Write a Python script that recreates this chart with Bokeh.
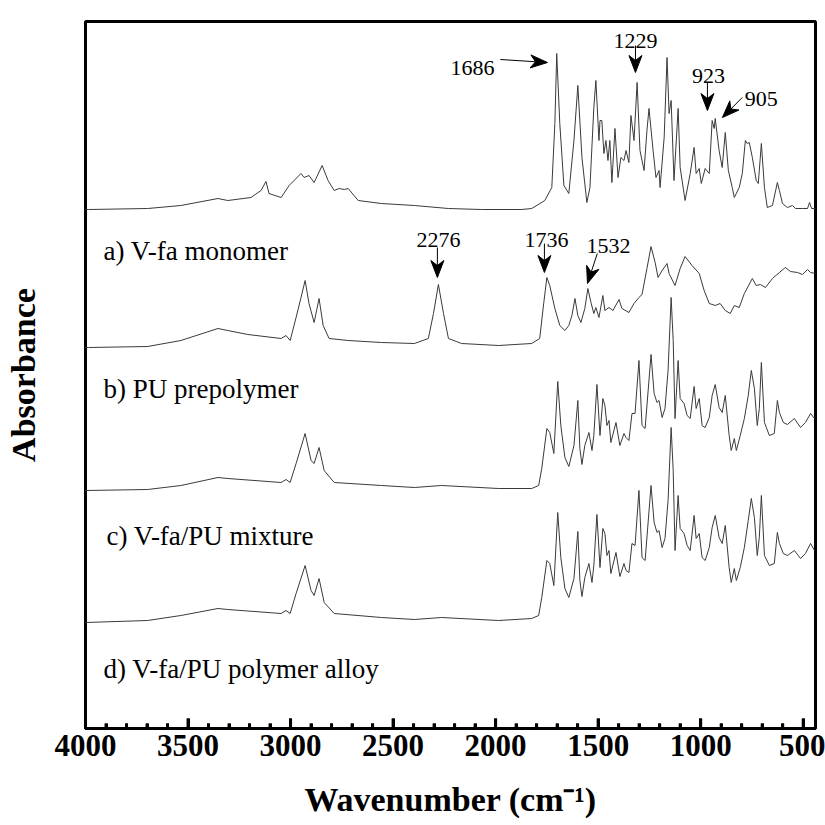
import math
from bokeh.plotting import figure
from bokeh.models import Range1d, FixedTicker, Label
from bokeh.embed import file_html
from bokeh.resources import INLINE

# ---------------- data ----------------
# wavenumbers (cm-1) and relative absorbance (a.u.) for each spectrum
wn_a = [4000, 3985, 3697, 3535, 3354, 3306, 3193, 3144, 3120, 3105, 3046, 3007, 2949, 2934, 2910, 2885,
        2846, 2817, 2787, 2763, 2738, 2719, 2670, 2557, 2396, 2230, 2068, 1873, 1824, 1760, 1726, 1711,
        1702, 1687, 1667, 1643, 1618, 1599, 1579, 1555, 1540, 1521, 1511, 1496, 1491, 1482, 1472, 1462,
        1452, 1443, 1433, 1418, 1403, 1389, 1374, 1364, 1350, 1340, 1325, 1310, 1296, 1276, 1262, 1252,
        1232, 1218, 1203, 1198, 1178, 1164, 1154, 1144, 1130, 1110, 1100, 1076, 1051, 1032, 1022, 1007,
        997, 978, 958, 944, 934, 929, 910, 895, 880, 865, 846, 836, 812, 797, 782, 773, 763, 748, 729,
        719, 704, 689, 675, 650, 626, 616, 601, 577, 552, 538, 503, 479, 469, 459, 440]
abs_a = [0.00, 0.00, 0.01, 0.04, 0.11, 0.09, 0.12, 0.19, 0.28, 0.16, 0.12, 0.24, 0.36, 0.32, 0.34, 0.27,
         0.44, 0.29, 0.19, 0.21, 0.20, 0.21, 0.09, 0.06, 0.04, 0.01, 0.00, 0.00, 0.01, 0.09, 0.22, 0.86,
         1.56, 0.86, 0.24, 0.16, 0.69, 1.24, 0.52, 0.07, 0.22, 1.02, 1.29, 0.69, 0.89, 0.89, 0.56, 0.69,
         0.49, 0.69, 0.27, 0.81, 0.32, 0.52, 0.49, 0.59, 0.47, 0.94, 0.69, 1.27, 0.59, 0.39, 0.79, 1.01,
         0.59, 0.32, 0.39, 0.22, 0.72, 1.52, 0.96, 1.09, 0.29, 1.01, 0.42, 0.09, 0.36, 0.62, 0.36, 0.41,
         0.26, 0.41, 0.36, 0.89, 0.81, 0.91, 0.59, 0.42, 0.77, 0.39, 0.22, 0.12, 0.22, 0.36, 0.69, 0.66,
         0.67, 0.52, 0.29, 0.26, 0.66, 0.22, 0.02, 0.04, 0.27, 0.19, 0.06, 0.02, 0.04, 0.01, 0.01, 0.01,
         0.07, 0.01, 0.01]

wn_b = [4000, 3985, 3697, 3535, 3354, 3306, 3208, 3046, 3022, 3002, 2973, 2949, 2929, 2910, 2885, 2861,
        2841, 2812, 2719, 2557, 2396, 2328, 2303, 2279, 2254, 2230, 2166, 1985, 1824, 1785, 1765, 1750,
        1736, 1711, 1687, 1662, 1643, 1628, 1613, 1599, 1584, 1565, 1550, 1535, 1521, 1511, 1496, 1477,
        1467, 1447, 1428, 1398, 1384, 1350, 1325, 1301, 1286, 1262, 1242, 1222, 1208, 1188, 1164, 1154,
        1125, 1100, 1076, 1042, 1007, 983, 958, 929, 905, 880, 856, 836, 812, 787, 748, 729, 709, 684,
        650, 616, 587, 562, 528, 503, 479, 464, 440]
abs_b = [0.00, 0.00, 0.01, 0.07, 0.19, 0.17, 0.13, 0.09, 0.12, 0.07, 0.30, 0.50, 0.67, 0.44, 0.25, 0.49,
         0.22, 0.09, 0.07, 0.05, 0.04, 0.09, 0.34, 0.63, 0.34, 0.09, 0.04, 0.02, 0.04, 0.09, 0.45, 0.70,
         0.62, 0.39, 0.22, 0.17, 0.22, 0.32, 0.49, 0.32, 0.25, 0.39, 0.59, 0.45, 0.34, 0.40, 0.30, 0.52,
         0.37, 0.40, 0.37, 0.48, 0.39, 0.35, 0.44, 0.50, 0.53, 0.79, 1.01, 0.85, 0.70, 0.77, 0.84, 0.74,
         0.62, 0.79, 0.91, 0.82, 0.74, 0.57, 0.44, 0.42, 0.44, 0.37, 0.34, 0.42, 0.40, 0.54, 0.69, 0.62,
         0.63, 0.60, 0.69, 0.75, 0.80, 0.76, 0.75, 0.73, 0.78, 0.75, 0.74]

wn_c = [4000, 3697, 3535, 3354, 3306, 3046, 3022, 3002, 2973, 2929, 2900, 2885, 2861, 2836, 2787, 2557,
        2396, 2264, 1985, 1824, 1790, 1775, 1750, 1736, 1716, 1697, 1682, 1662, 1643, 1618, 1599, 1589,
        1579, 1565, 1545, 1530, 1521, 1506, 1491, 1477, 1467, 1457, 1447, 1438, 1413, 1394, 1374, 1364,
        1350, 1335, 1320, 1301, 1286, 1271, 1242, 1227, 1213, 1203, 1188, 1174, 1159, 1144, 1134, 1125,
        1110, 1100, 1081, 1066, 1051, 1032, 1022, 1007, 993, 978, 958, 944, 929, 910, 895, 880, 861, 851,
        836, 826, 807, 787, 768, 753, 738, 724, 714, 704, 689, 665, 641, 626, 616, 597, 577, 543, 513,
        489, 464, 445]
abs_c = [0.00, 0.01, 0.05, 0.13, 0.12, 0.08, 0.11, 0.08, 0.27, 0.57, 0.30, 0.27, 0.43, 0.20, 0.08, 0.05,
         0.03, 0.05, 0.02, 0.02, 0.05, 0.22, 0.62, 0.58, 0.37, 1.09, 0.65, 0.33, 0.24, 0.45, 0.90, 0.42,
         0.26, 0.45, 0.58, 0.40, 0.55, 1.06, 0.55, 0.92, 0.85, 0.65, 0.70, 0.48, 0.68, 0.45, 0.57, 0.53,
         0.50, 0.77, 0.77, 1.30, 0.65, 0.62, 1.36, 0.97, 0.88, 0.90, 0.73, 0.82, 1.20, 1.93, 1.50, 0.72,
         1.30, 0.92, 0.87, 0.75, 0.72, 1.04, 0.82, 0.92, 0.65, 0.63, 0.73, 0.95, 1.06, 0.83, 0.78, 0.95,
         0.55, 0.40, 0.52, 0.40, 0.55, 0.72, 0.95, 1.20, 1.02, 0.65, 0.82, 1.28, 0.68, 0.55, 0.57, 0.90,
         0.78, 0.68, 0.66, 0.72, 0.63, 0.68, 0.77, 0.72]

wn_d = [4000, 3697, 3535, 3354, 3306, 3046, 3022, 3002, 2973, 2929, 2900, 2885, 2861, 2836, 2787, 2557,
        2396, 2264, 1985, 1824, 1790, 1775, 1750, 1736, 1716, 1697, 1682, 1662, 1643, 1618, 1599, 1589,
        1579, 1565, 1545, 1530, 1521, 1506, 1491, 1477, 1467, 1457, 1447, 1438, 1413, 1394, 1374, 1364,
        1350, 1335, 1320, 1301, 1286, 1271, 1242, 1227, 1213, 1203, 1188, 1174, 1159, 1144, 1134, 1125,
        1110, 1100, 1081, 1066, 1051, 1032, 1022, 1007, 993, 978, 958, 944, 929, 910, 895, 880, 861, 851,
        836, 826, 807, 787, 768, 753, 738, 724, 714, 704, 689, 665, 641, 626, 616, 597, 577, 543, 513,
        489, 464, 445]
abs_d = [0.00, 0.02, 0.07, 0.14, 0.13, 0.09, 0.12, 0.09, 0.29, 0.57, 0.32, 0.27, 0.44, 0.20, 0.09, 0.05,
         0.03, 0.05, 0.02, 0.04, 0.07, 0.25, 0.62, 0.59, 0.37, 1.10, 0.65, 0.34, 0.25, 0.44, 0.91, 0.42,
         0.26, 0.45, 0.59, 0.40, 0.57, 1.08, 0.55, 0.94, 0.89, 0.67, 0.72, 0.49, 0.70, 0.46, 0.59, 0.52,
         0.50, 0.79, 0.77, 1.32, 0.65, 0.62, 1.37, 1.00, 0.90, 0.92, 0.75, 0.84, 1.22, 1.95, 1.52, 0.72,
         1.27, 0.94, 0.89, 0.77, 0.72, 1.07, 0.84, 0.89, 0.65, 0.62, 0.75, 0.95, 1.07, 0.85, 0.79, 0.97,
         0.55, 0.40, 0.54, 0.42, 0.55, 0.75, 1.02, 1.24, 1.05, 0.67, 0.85, 1.27, 0.67, 0.57, 0.59, 0.90,
         0.79, 0.69, 0.67, 0.72, 0.64, 0.69, 0.79, 0.72]

offsets = [5.19, 3.81, 2.38, 1.06]
series_labels = ["a) V-fa monomer", "b) PU prepolymer", "c) V-fa/PU mixture", "d) V-fa/PU polymer alloy"]
label_x = [3912, 3912, 3897, 3912]
label_y = [4.78, 3.40, 1.93, 0.60]

peak_labels = ["1686", "1229", "923", "905", "2276", "1736", "1532"]
peak_text_x = [2113, 1318, 962, 704, 2279, 1752, 1450]
peak_text_y = [6.61, 6.88, 6.53, 6.30, 4.89, 4.89, 4.83]
arrow_x0 = [1977, 1318, 967, 797, 2284, 1762, 1504]
arrow_y0 = [6.69, 6.83, 6.46, 6.31, 4.81, 4.85, 4.75]
arrow_x1 = [1747, 1318, 967, 894, 2284, 1762, 1552]
arrow_y1 = [6.66, 6.56, 6.18, 6.11, 4.51, 4.56, 4.45]

x_major_ticks = [500, 1000, 1500, 2000, 2500, 3000, 3500, 4000]
x_minor_ticks = [v for v in range(600, 4000, 100) if v % 500 != 0]
# ----------------------------------------------------------------

FONT = "Liberation Serif"
X_START, X_END, Y_TOP = 4000, 440, 7.07
W, H = 825, 825
B_LEFT, B_RIGHT, B_TOP, B_BOTTOM = 85, 10, 21, 97
KX = (W - B_LEFT - B_RIGHT) / (X_START - X_END)   # px per cm-1
KY = (H - B_TOP - B_BOTTOM) / Y_TOP               # px per absorbance unit

p = figure(width=W, height=H, output_backend="svg", toolbar_location=None,
           x_range=Range1d(X_START, X_END), y_range=Range1d(0, Y_TOP),
           min_border_left=B_LEFT, min_border_right=B_RIGHT, min_border_top=B_TOP,
           min_border_bottom=B_BOTTOM)
p.outline_line_color = "black"
p.outline_line_width = 3
p.xgrid.visible = False
p.ygrid.visible = False

spectra = [(wn_a, abs_a), (wn_b, abs_b), (wn_c, abs_c), (wn_d, abs_d)]
for (wn, ab), off in zip(spectra, offsets):
    p.line(wn, [v + off for v in ab], line_color="#3a3a3a", line_width=1)

# x axis with inward ticks (major 500, minor 100)
xa = p.xaxis[0]
xa.ticker = FixedTicker(ticks=x_major_ticks, minor_ticks=x_minor_ticks)
xa.axis_line_color = "black"
xa.axis_line_width = 3
xa.major_tick_in = 10
xa.major_tick_out = 0
xa.minor_tick_in = 5
xa.minor_tick_out = 0
xa.major_tick_line_color = "black"
xa.minor_tick_line_color = "black"
xa.major_tick_line_width = 3
xa.minor_tick_line_width = 3
xa.major_label_text_font = FONT
xa.major_label_text_font_style = "bold"
xa.major_label_text_font_size = "31px"
xa.major_label_text_color = "black"
xa.major_label_standoff = 6
xa.axis_label = "Wavenumber (cm\u207b\u00b9)"
xa.axis_label_text_font = FONT
xa.axis_label_text_font_style = "bold"
xa.axis_label_text_font_size = "34px"
xa.axis_label_text_color = "black"
xa.axis_label_standoff = 22

ya = p.yaxis[0]
ya.ticker = FixedTicker(ticks=[])
ya.axis_line_color = None
ya.major_tick_line_color = None
ya.minor_tick_line_color = None
ya.axis_label = "Absorbance"
ya.axis_label_text_font = FONT
ya.axis_label_text_font_style = "bold"
ya.axis_label_text_font_size = "34px"
ya.axis_label_text_color = "black"
ya.axis_label_standoff = 44

for t, x, y in zip(series_labels, label_x, label_y):
    p.add_layout(Label(x=x, y=y, text=t, text_font=FONT, text_font_size="27px",
                       text_color="black", text_baseline="alphabetic", text_align="left"))

for t, x, y in zip(peak_labels, peak_text_x, peak_text_y):
    p.add_layout(Label(x=x, y=y, text=t, text_font=FONT, text_font_size="22px",
                       text_color="black", text_baseline="alphabetic", text_align="center"))

# arrows: thin shaft + filled notched head, both as glyphs in data space
def to_px(wn, y):
    return (X_START - wn) * KX, y * KY

def to_data(px, py):
    return X_START - px / KX, py / KY

HEAD_L, HEAD_W, NOTCH = 17.0, 6.5, 5.0
shaft_x0, shaft_y0, shaft_x1, shaft_y1 = [], [], [], []
head_xs, head_ys = [], []
for x0, y0, x1, y1 in zip(arrow_x0, arrow_y0, arrow_x1, arrow_y1):
    sx, sy = to_px(x0, y0)
    ex, ey = to_px(x1, y1)
    d = math.hypot(ex - sx, ey - sy)
    ux, uy = (ex - sx) / d, (ey - sy) / d
    nx, ny = -uy, ux
    pts = [(ex, ey),
           (ex - HEAD_L * ux + HEAD_W * nx, ey - HEAD_L * uy + HEAD_W * ny),
           (ex - (HEAD_L - NOTCH) * ux, ey - (HEAD_L - NOTCH) * uy),
           (ex - HEAD_L * ux - HEAD_W * nx, ey - HEAD_L * uy - HEAD_W * ny)]
    dpts = [to_data(a, b) for a, b in pts]
    head_xs.append([q[0] for q in dpts])
    head_ys.append([q[1] for q in dpts])
    shaft_x0.append(x0)
    shaft_y0.append(y0)
    shaft_x1.append(dpts[2][0])
    shaft_y1.append(dpts[2][1])

p.segment(x0=shaft_x0, y0=shaft_y0, x1=shaft_x1, y1=shaft_y1, line_color="black", line_width=1)
p.patches(xs=head_xs, ys=head_ys, fill_color="black", line_color="black", line_width=1)

# the same inward ticks drawn once more as glyphs on the top layer (coincide with axis ticks)
maj_h = 10 / KY
min_h = 5 / KY
p.segment(x0=x_major_ticks, y0=[0] * len(x_major_ticks), x1=x_major_ticks,
          y1=[maj_h] * len(x_major_ticks), line_color="black", line_width=3, level="overlay")
p.segment(x0=x_minor_ticks, y0=[0] * len(x_minor_ticks), x1=x_minor_ticks,
          y1=[min_h] * len(x_minor_ticks), line_color="black", line_width=3, level="overlay")

open("out.html", "w").write(file_html(p, INLINE))
